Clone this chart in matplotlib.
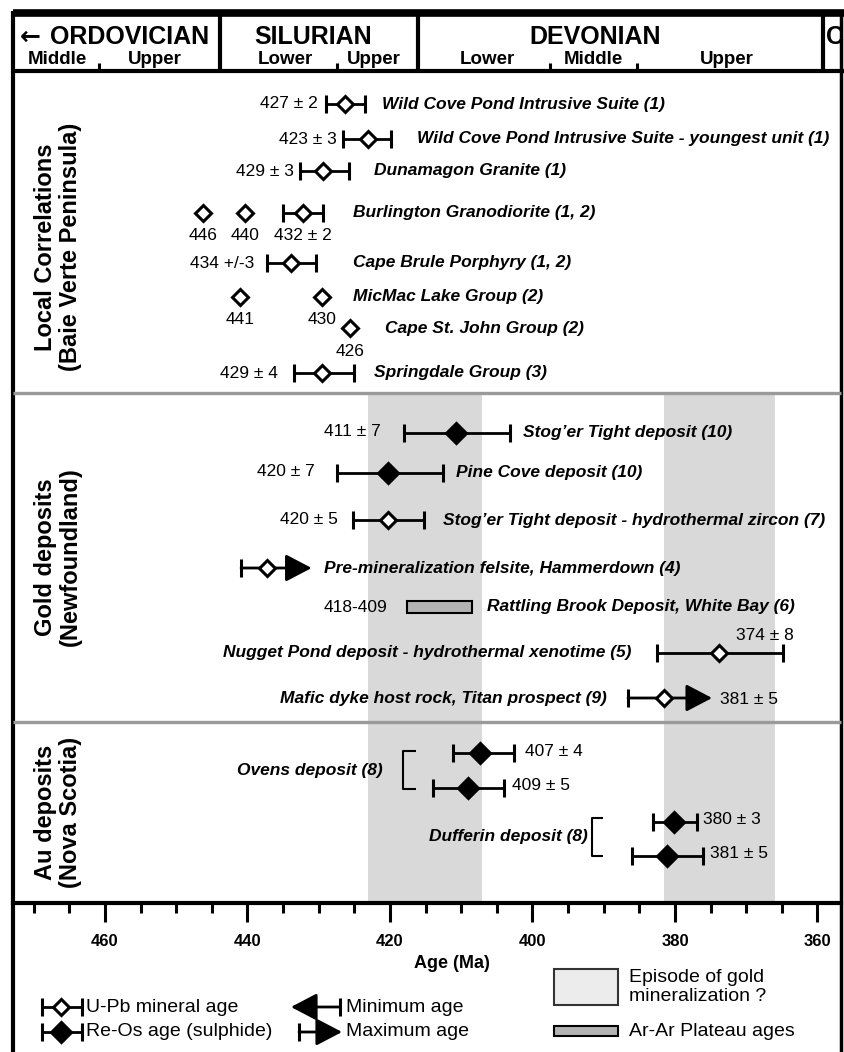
import numpy as np
import matplotlib.pyplot as plt

plt.rcParams['font.family'] = ['Liberation Sans', 'DejaVu Sans']

# ---------------- data (ages in Ma) ----------------
# Local correlations, Baie Verte Peninsula (U-Pb)
local_names = ["Wild Cove Pond Intrusive Suite (1)",
               "Wild Cove Pond Intrusive Suite - youngest unit (1)",
               "Dunamagon Granite (1)",
               "Burlington Granodiorite (1, 2)",
               "Cape Brule Porphyry (1, 2)",
               "Springdale Group (3)"]
local_age = [426.3, 423.1, 429.4, 432.2, 433.9, 429.6]
local_old = [429.0, 426.6, 432.6, 435.0, 437.3, 433.5]
local_young = [423.5, 419.9, 425.7, 429.4, 430.4, 425.1]
local_text = ["427 ± 2", "423 ± 3", "429 ± 3", "432 ± 2", "434 +/-3", "429 ± 4"]

single_names = ["MicMac Lake Group (2)", "Cape St. John Group (2)"]
burlington_pts = [446.3, 440.3]
burlington_txt = ["446", "440"]
micmac_pts = [441.0, 429.6]
micmac_txt = ["441", "430"]
stjohn_pts = [425.6]
stjohn_txt = ["426"]

# Gold deposits, Newfoundland
nf_names = ["Stog\u2019er Tight deposit (10)", "Pine Cove deposit (10)",
            "Stog\u2019er Tight deposit - hydrothermal zircon (7)",
            "Nugget Pond deposit - hydrothermal xenotime (5)"]
nf_age = [410.8, 420.3, 420.3, 373.8]
nf_old = [418.0, 427.4, 425.2, 382.5]
nf_young = [403.2, 412.6, 415.2, 364.8]
nf_text = ["411 ± 7", "420 ± 7", "420 ± 5", "374 ± 8"]
nf_reos = [True, True, False, False]

# maximum-age (arrow) entries
max_names = ["Pre-mineralization felsite, Hammerdown (4)",
             "Mafic dyke host rock, Titan prospect (9)"]
max_age = [437.2, 381.5]
max_old = [440.9, 386.6]
max_tip = [431.0, 374.8]

arar_name = "Rattling Brook Deposit, White Bay (6)"
arar_old, arar_young = 417.6, 408.5

# Au deposits, Nova Scotia (Re-Os)
ns_age = [407.4, 409.0, 380.1, 381.1]
ns_old = [411.2, 414.0, 383.1, 386.1]
ns_young = [402.6, 404.0, 376.9, 376.1]
ns_text = ["407 ± 4", "409 ± 5", "380 ± 3", "381 ± 5"]

# episodes of gold mineralization
band_old = [423.1, 381.6]
band_young = [407.1, 365.9]

# time scale header
periods = ["\u2190 ORDOVICIAN", "SILURIAN", "DEVONIAN", "C"]
period_bounds = [443.8, 416.0, 359.2]
epoch_bounds = [460.9, 427.4, 397.5, 385.3]
epochs = ["Middle", "Upper", "Lower", "Upper", "Lower", "Middle", "Upper"]


# ---------------- layout ----------------
def px(x):
    # pixel column -> age (layout helper)
    return 460 - (x - 105) / 7.125


fig = plt.figure(figsize=(8.44, 10.52), dpi=100)
ax = fig.add_axes([0, 0, 1, 1])
ax.set_xlim(px(0), px(844))
ax.set_ylim(1052, 0)
ax.patch.set_alpha(0)

LB, RB = px(13), px(841)
SEP1, SEP2, AXY = 393, 722, 903

# frame
ax.plot([LB, LB], [11, 1052], color='black', lw=3, solid_capstyle='butt')
ax.plot([RB, RB], [11, 1052], color='black', lw=2.5, solid_capstyle='butt')
ax.plot([LB, px(844)], [13, 13], color='black', lw=5.5, solid_capstyle='butt')
ax.plot([LB, px(844)], [71, 71], color='black', lw=3, solid_capstyle='butt')
for b in period_bounds:
    ax.plot([b, b], [13, 71], color='black', lw=3, solid_capstyle='butt')
for b in epoch_bounds:
    ax.plot([b, b], [63, 71], color='black', lw=2.2, solid_capstyle='butt')

hdr = dict(fontsize=18, fontweight='bold', va='center')
ax.text(px(20), 37, "\u2190", ha='left', fontsize=18, fontweight='bold', va='center',
        family='DejaVu Sans')
ax.text(px(50), 37, periods[0][2:], ha='left', **hdr)
ax.text(px(313), 37, periods[1], ha='center', **hdr)
ax.text(px(595), 37, periods[2], ha='center', **hdr)
ax.text(px(826), 37, periods[3], ha='left', **hdr)
for lab, x in zip(epochs, [57, 155, 285, 374, 487, 593, 727]):
    ax.text(px(x), 60, lab, ha='center', va='center', fontsize=13.5, fontweight='bold')

# section separators
for y in [SEP1, SEP2]:
    ax.plot([LB, RB], [y, y], color='#9a9a9a', lw=2.4, solid_capstyle='butt')

# mineralization bands
for o, yg in zip(band_old, band_young):
    ax.fill_betweenx([SEP1 + 2, AXY - 2], o, yg, color='#d9d9d9', lw=0, zorder=0)

# section labels
sec = dict(rotation=90, ha='center', va='center', fontsize=17, fontweight='bold',
           multialignment='center', linespacing=1.15)
ax.text(px(58), 247, "Local Correlations\n(Baie Verte Peninsula)", **sec)
ax.text(px(58), 557, "Gold deposits\n(Newfoundland)", **sec)
ax.text(px(58), 812, "Au deposits\n(Nova Scotia)", **sec)

eb = dict(fmt='D', mec='black', ecolor='black', elinewidth=2, capsize=6.5,
          capthick=2.2, mew=2.2, zorder=5)
name_kw = dict(fontsize=12.5, fontweight='bold', style='italic', va='center')
val_kw = dict(fontsize=12.5, va='center')


def age_bar(a, o, yg, y, filled):
    ax.errorbar([a], [y], xerr=[[a - yg], [o - a]], ms=10 if filled else 8,
                mfc='black' if filled else 'white', **eb)


def arrow(tail, tip, y):
    ax.annotate('', xy=(tip, y), xytext=(tail, y),
                arrowprops=dict(arrowstyle='-|>,head_length=0.8,head_width=0.42',
                                mutation_scale=20, lw=2, color='black',
                                shrinkA=0, shrinkB=0), zorder=4)
    ax.plot([tail], [y], marker='|', ms=13, mew=2.2, color='black', zorder=5)


# --- local correlations ---
loc_y = [104, 139, 171, 213, 263, 373]
loc_name_x = [382, 417, 374, 353, 353, 374]
loc_val_x = [318, 337, 294, None, 254, 278]
for i in range(len(local_age)):
    age_bar(local_age[i], local_old[i], local_young[i], loc_y[i], False)
    ax.text(px(loc_name_x[i]), loc_y[i], local_names[i], ha='left', **name_kw)
    if loc_val_x[i] is not None:
        ax.text(px(loc_val_x[i]), loc_y[i], local_text[i], ha='right', **val_kw)
ax.text(local_age[3], 235, local_text[3], ha='center', **val_kw)

pt_kw = dict(marker='D', ms=8, mfc='white', mec='black', mew=2.2, ls='none', zorder=5)
ax.plot(burlington_pts, [213] * 2, **pt_kw)
for a, t in zip(burlington_pts, burlington_txt):
    ax.text(a, 235, t, ha='center', **val_kw)
ax.plot(micmac_pts, [297] * 2, **pt_kw)
for a, t in zip(micmac_pts, micmac_txt):
    ax.text(a, 320, t, ha='center', **val_kw)
ax.text(px(353), 297, single_names[0], ha='left', **name_kw)
ax.plot(stjohn_pts, [328], **pt_kw)
ax.text(stjohn_pts[0], 352, stjohn_txt[0], ha='center', **val_kw)
ax.text(px(385), 328, single_names[1], ha='left', **name_kw)

# --- Newfoundland ---
nf_y = [433, 473, 520, 653]
for i in range(len(nf_age)):
    age_bar(nf_age[i], nf_old[i], nf_young[i], nf_y[i], nf_reos[i])
ax.text(px(381), 431, nf_text[0], ha='right', **val_kw)
ax.text(px(523), 433, nf_names[0], ha='left', **name_kw)
ax.text(px(315), 471, nf_text[1], ha='right', **val_kw)
ax.text(px(456), 473, nf_names[1], ha='left', **name_kw)
ax.text(px(338), 520, nf_text[2], ha='right', **val_kw)
ax.text(px(443), 520, nf_names[2], ha='left', **name_kw)
ax.text(px(794), 635, nf_text[3], ha='right', **val_kw)
ax.text(px(631), 653, nf_names[3], ha='right', **name_kw)

max_y = [568, 698]
for i in range(2):
    arrow(max_old[i], max_tip[i], max_y[i])
    ax.plot([max_age[i]], [max_y[i]], marker='D', ms=8, mfc='white', mec='black',
            mew=2.2, zorder=6)
ax.text(px(324), 568, max_names[0], ha='left', **name_kw)
ax.text(px(607), 698, max_names[1], ha='right', **name_kw)
ax.text(px(720), 700, "381 ± 5", ha='left', **val_kw)

ax.barh([607], [arar_old - arar_young], left=arar_young, height=12,
        color='#b3b3b3', edgecolor='black', lw=1.5, zorder=4)
ax.text(px(387), 608, "418-409", ha='right', **val_kw)
ax.text(px(487), 607, arar_name, ha='left', **name_kw)

# --- Nova Scotia ---
ns_y = [753, 788, 822, 856]
ns_val_x = [525, 512, 703, 710]
for i in range(len(ns_age)):
    age_bar(ns_age[i], ns_old[i], ns_young[i], ns_y[i], True)
    ax.text(px(ns_val_x[i]), ns_y[i] - 2, ns_text[i], ha='left', **val_kw)

br = dict(color='black', lw=1.5, solid_capstyle='butt')
ax.plot([px(416), px(403), px(403), px(416)], [751, 751, 789, 789], **br)
ax.text(px(383), 770, "Ovens deposit (8)", ha='right', **name_kw)
ax.plot([px(603), px(592), px(592), px(603)], [818, 818, 856, 856], **br)
ax.text(px(588), 837, "Dufferin deposit (8)", ha='right', **name_kw)

# --- age axis ---
for s in ['top', 'left', 'right']:
    ax.spines[s].set_visible(False)
ax.spines['bottom'].set_position(('data', AXY))
ax.spines['bottom'].set_linewidth(3)
ax.spines['bottom'].set_bounds(LB, RB)
ax.set_xticks(np.arange(460, 359, -20))
ax.set_xticks([t for t in np.arange(470, 359, -5) if t % 20], minor=True)
ax.tick_params(axis='x', which='major', direction='out', length=14, width=2.2,
               pad=8, labelsize=12)
ax.tick_params(axis='x', which='minor', direction='out', length=7, width=2.2)
for lab in ax.get_xticklabels():
    lab.set_fontweight('bold')
ax.set_yticks([])
ax.text(px(452), 964, "Age (Ma)", ha='center', va='center', fontsize=13, fontweight='bold')

# --- legend ---
leg_kw = dict(fontsize=14, va='center', ha='left')
age_bar(px(61), px(42), px(82), 1007, False)
ax.text(px(86), 1007, "U-Pb mineral age", **leg_kw)
age_bar(px(61), px(42), px(82), 1032, True)
ax.text(px(86), 1032, "Re-Os age (sulphide)", **leg_kw)

arrow(px(340), px(291), 1007)
ax.text(px(346), 1007, "Minimum age", **leg_kw)
arrow(px(299), px(342), 1032)
ax.text(px(346), 1032, "Maximum age", **leg_kw)

ax.barh([987], [px(554) - px(618)], left=px(618), height=36,
        color='#ececec', edgecolor='#333333', lw=1.5)
ax.text(px(629), 987, "Episode of gold\nmineralization ?", linespacing=1.1, **leg_kw)
ax.barh([1031], [px(554) - px(618)], left=px(618), height=10,
        color='#b3b3b3', edgecolor='black', lw=1.5)
ax.text(px(629), 1032, "Ar-Ar Plateau ages", **leg_kw)

fig.savefig('out.png', dpi=100)
